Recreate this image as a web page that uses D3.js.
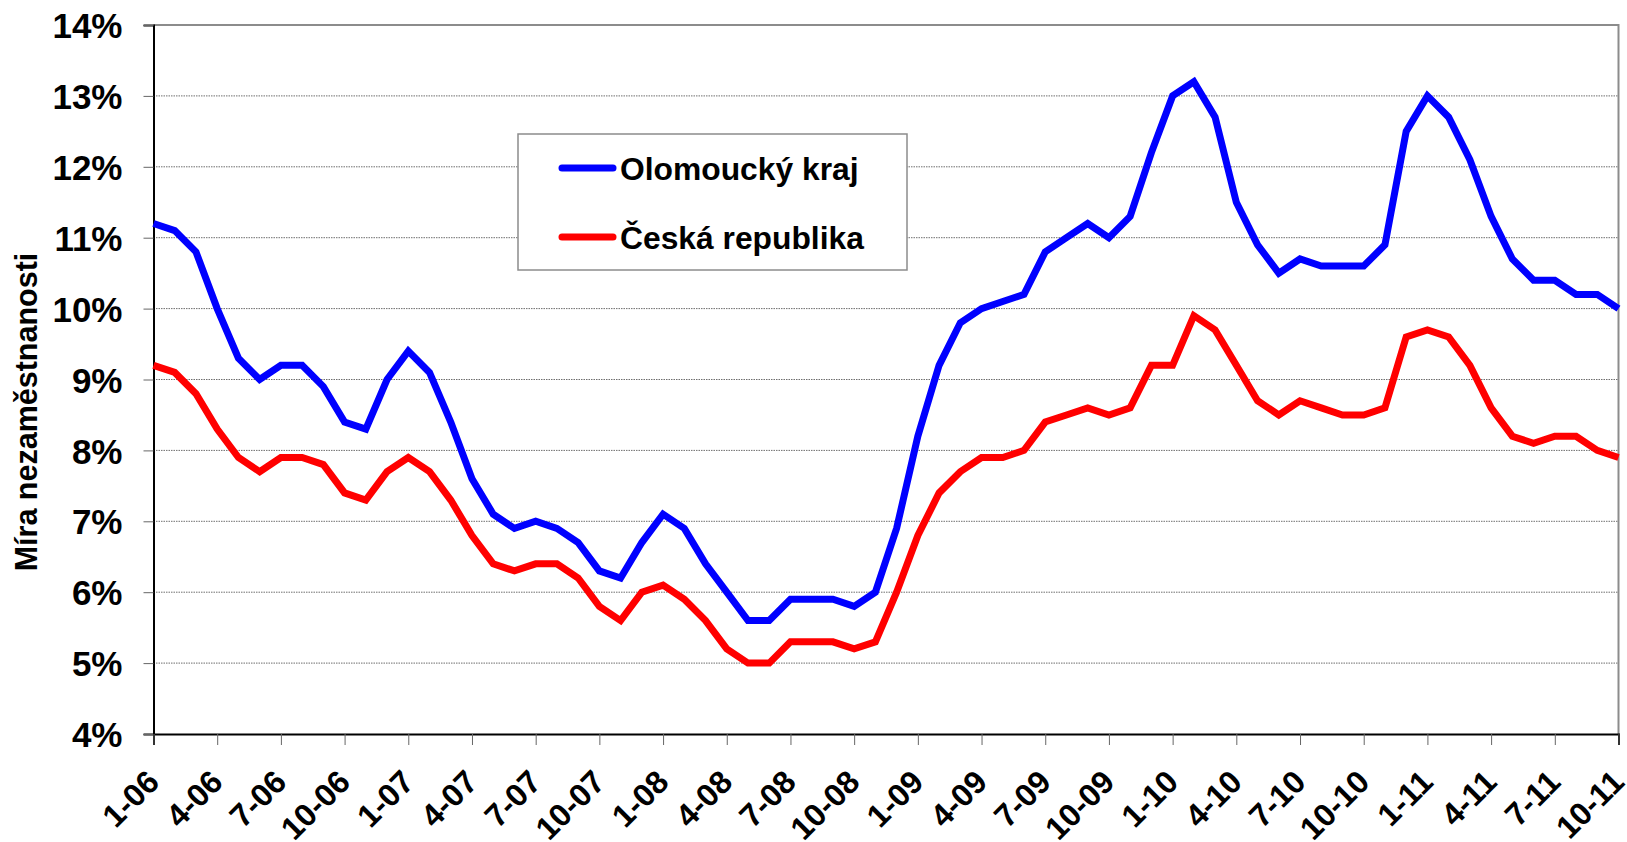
<!DOCTYPE html>
<html>
<head>
<meta charset="utf-8">
<script src="https://cdn.jsdelivr.net/npm/d3@7"></script>
<style>
  body { margin: 0; background: #fff; }
  text { font-family: "Liberation Sans", Arial, sans-serif; font-weight: bold; fill: #000; }
</style>
</head>
<body>
<div id="chart"></div>
<script>
// Unemployment rate, Olomoucký kraj vs Česká republika, monthly 1-06 .. 10-11

var months = [
  "1-06","2-06","3-06","4-06","5-06","6-06","7-06","8-06","9-06","10-06","11-06","12-06",
  "1-07","2-07","3-07","4-07","5-07","6-07","7-07","8-07","9-07","10-07","11-07","12-07",
  "1-08","2-08","3-08","4-08","5-08","6-08","7-08","8-08","9-08","10-08","11-08","12-08",
  "1-09","2-09","3-09","4-09","5-09","6-09","7-09","8-09","9-09","10-09","11-09","12-09",
  "1-10","2-10","3-10","4-10","5-10","6-10","7-10","8-10","9-10","10-10","11-10","12-10",
  "1-11","2-11","3-11","4-11","5-11","6-11","7-11","8-11","9-11","10-11"
];

var olomouc = [
  11.2, 11.1, 10.8, 10.0, 9.3, 9.0, 9.2, 9.2, 8.9, 8.4, 8.3, 9.0,
  9.4, 9.1, 8.4, 7.6, 7.1, 6.9, 7.0, 6.9, 6.7, 6.3, 6.2, 6.7,
  7.1, 6.9, 6.4, 6.0, 5.6, 5.6, 5.9, 5.9, 5.9, 5.8, 6.0, 6.9,
  8.2, 9.2, 9.8, 10.0, 10.1, 10.2, 10.8, 11.0, 11.2, 11.0, 11.3, 12.2,
  13.0, 13.2, 12.7, 11.5, 10.9, 10.5, 10.7, 10.6, 10.6, 10.6, 10.9, 12.5,
  13.0, 12.7, 12.1, 11.3, 10.7, 10.4, 10.4, 10.2, 10.2, 10.0
];

var cesko = [
  9.2, 9.1, 8.8, 8.3, 7.9, 7.7, 7.9, 7.9, 7.8, 7.4, 7.3, 7.7,
  7.9, 7.7, 7.3, 6.8, 6.4, 6.3, 6.4, 6.4, 6.2, 5.8, 5.6, 6.0,
  6.1, 5.9, 5.6, 5.2, 5.0, 5.0, 5.3, 5.3, 5.3, 5.2, 5.3, 6.0,
  6.8, 7.4, 7.7, 7.9, 7.9, 8.0, 8.4, 8.5, 8.6, 8.5, 8.6, 9.2,
  9.2, 9.9, 9.7, 9.2, 8.7, 8.5, 8.7, 8.6, 8.5, 8.5, 8.6, 9.6,
  9.7, 9.6, 9.2, 8.6, 8.2, 8.1, 8.2, 8.2, 8.0, 7.9
];

var seriesNames = ["Olomoucký kraj", "Česká republika"];
var seriesColors = ["#0000ff", "#ff0000"];
var yTicks = [4, 5, 6, 7, 8, 9, 10, 11, 12, 13, 14];
var yTitle = "Míra nezaměstnanosti";

// canvas
var width = 1627;
var height = 842;
var plotLeft = 153.5;
var plotRight = 1618.5;
var plotTop = 25;
var plotBottom = 734;

var svg = d3
  .select("#chart")
  .append("svg")
  .attr("width", width)
  .attr("height", height);

var xScale = d3
  .scaleLinear()
  .domain([0, months.length - 1])
  .range([plotLeft, plotRight]);

var yScale = d3
  .scaleLinear()
  .domain([4, 14])
  .range([plotBottom, plotTop]);

// dotted gridlines
svg.append("g")
  .selectAll("line")
  .data(yTicks.slice(1, -1))
  .enter()
  .append("line")
  .attr("x1", plotLeft)
  .attr("x2", plotRight)
  .attr("y1", function(d) { return yScale(d); })
  .attr("y2", function(d) { return yScale(d); })
  .attr("stroke", "#6e6e6e")
  .attr("stroke-width", 1)
  .attr("stroke-dasharray", "1.5,1");

// plot frame top + right (grey)
svg.append("path")
  .attr("d", "M" + plotLeft + "," + yScale(14) + "H" + plotRight + "V" + plotBottom)
  .attr("fill", "none")
  .attr("stroke", "#8c8c8c")
  .attr("stroke-width", 2);

// y axis
var yAxis = d3.axisLeft(yScale)
  .tickValues(yTicks)
  .tickSize(10)
  .tickPadding(21)
  .tickFormat(function(d) { return d + "%"; });

var yG = svg.append("g")
  .attr("transform", "translate(" + plotLeft + ",0)")
  .call(yAxis);
yG.select(".domain").attr("stroke", "#000").attr("stroke-width", 2);
yG.selectAll(".tick line").attr("stroke", "#666");
yG.selectAll(".tick text")
  .attr("font-size", 35)
  .attr("font-family", null)
  .attr("dy", "0.36em");

// x axis, every third month labelled
var xTickIdx = d3.range(0, months.length, 3);
var xAxis = d3.axisBottom(xScale)
  .tickValues(xTickIdx)
  .tickSize(11)
  .tickFormat(function(i) { return months[i]; });

var xG = svg.append("g")
  .attr("transform", "translate(0," + plotBottom + ")")
  .call(xAxis);
xG.select(".domain").attr("stroke", "#000").attr("stroke-width", 2);
xG.selectAll(".tick line").attr("stroke", "#666");
xG.selectAll(".tick text")
  .attr("font-size", 32)
  .attr("font-family", null)
  .attr("x", 0)
  .attr("y", 0)
  .attr("dy", 0)
  .attr("text-anchor", "end")
  .attr("transform", "translate(7,50) rotate(-45)");

// y title
svg.append("text")
  .attr("transform", "translate(37," + 412 + ") rotate(-90)")
  .attr("text-anchor", "middle")
  .attr("font-size", 30.5)
  .text(yTitle);

// lines
var line = d3.line()
  .x(function(d, i) { return xScale(i); })
  .y(function(d) { return yScale(d); });

[olomouc, cesko].forEach(function(vals, k) {
  svg.append("path")
    .datum(vals)
    .attr("d", line)
    .attr("fill", "none")
    .attr("stroke", seriesColors[k])
    .attr("stroke-width", 7)
    .attr("stroke-linejoin", "miter");
});

// legend
var legend = svg.append("g");
legend.append("rect")
  .attr("x", 518)
  .attr("y", 134)
  .attr("width", 389)
  .attr("height", 136)
  .attr("fill", "#fff")
  .attr("stroke", "#8c8c8c")
  .attr("stroke-width", 1.5);

var legendY = [168, 237];
seriesNames.forEach(function(name, k) {
  legend.append("line")
    .attr("x1", 562)
    .attr("x2", 613)
    .attr("y1", legendY[k])
    .attr("y2", legendY[k])
    .attr("stroke", seriesColors[k])
    .attr("stroke-width", 7)
    .attr("stroke-linecap", "round");
  legend.append("text")
    .attr("x", 620)
    .attr("y", legendY[k] + 12)
    .attr("font-size", 31.8)
    .text(name);
});
</script>
</body>
</html>
